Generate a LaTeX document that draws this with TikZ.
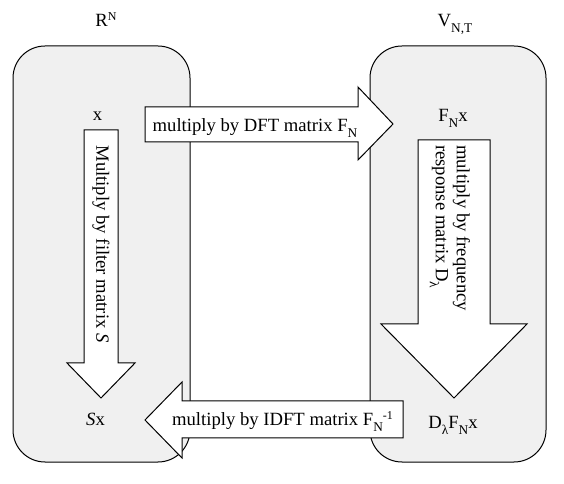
\documentclass[tikz,border=0pt]{standalone}
\usepackage{fontspec}
\setmainfont{Liberation Serif}
\definecolor{boxgray}{RGB}{240,240,240}
\newcommand{\mysub}[1]{\raisebox{-4.5pt}{\fontsize{10}{10}\selectfont #1}}
\newcommand{\mysup}[1]{\raisebox{5pt}{\fontsize{9}{9}\selectfont #1}}
\begin{document}
\begin{tikzpicture}[x=0.75pt,y=-0.75pt,
  font=\fontsize{14}{15.75}\selectfont,
  region/.style={draw=black, fill=boxgray, line width=0.75pt, rounded corners=24pt},
  blockarrow/.style={draw=black, fill=white, line width=0.75pt, line join=miter},
  lbl/.style={inner sep=0pt}]
\useasboundingbox (0,0) rectangle (564,484);
% regions
\path[region] (13,46) rectangle (190,462);
\path[region] (370,46) rectangle (546,462);
% block arrows
\path[blockarrow] (84,130) -- (118,130) -- (118,363) -- (135,363) -- (101,398) -- (67,363) -- (84,363) -- cycle;
\path[blockarrow] (418,140) -- (490,140) -- (490,324) -- (527,324) -- (454,398) -- (381,324) -- (418,324) -- cycle;
\path[blockarrow] (145,107) -- (358,107) -- (358,87) -- (393,124) -- (358,160) -- (358,142) -- (145,142) -- cycle;
\path[blockarrow] (403,401) -- (182,401) -- (182,382) -- (145,420) -- (182,458) -- (182,438) -- (403,438) -- cycle;
% labels
\node[lbl, anchor=base] (RN) at (106,27) {R\mysup{N}};
\node[lbl, anchor=base] (VNT) at (455,27) {V\mysub{N,T}};
\node[lbl, anchor=base] (x) at (97.5,121) {x};
\node[lbl, anchor=base] (Fx) at (453,122) {F\mysub{N}x};
\node[lbl, anchor=base] (Sx) at (95.5,426) {\textit{S}x};
\node[lbl, anchor=base] (DFx) at (453,429) {D\mysub{λ}F\mysub{N}x};
\node[lbl, anchor=base] (dft) at (255,131.5) {multiply by DFT matrix F\mysub{N}};
\node[lbl, anchor=base] (idft) at (282.5,426) {multiply by IDFT matrix F\mysub{N}\mysup{-1}};
\node[lbl, rotate=-90] (filt) at (101,244) {Multiply by filter matrix \textit{S}};
\node[lbl, rotate=-90, align=left] (freq) at (450,228) {multiply by frequency\\response matrix D\mysub{λ}};
\end{tikzpicture}
\end{document}
